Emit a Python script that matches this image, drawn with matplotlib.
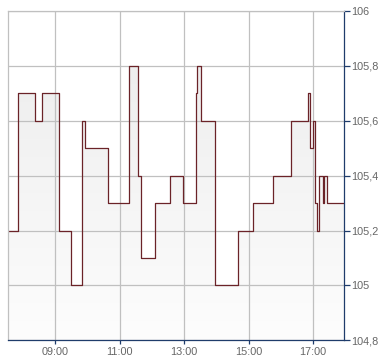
import matplotlib
matplotlib.use("Agg")
import matplotlib.pyplot as plt
import numpy as np

# step times (HH:MM) and prices (post-step values)
times = ["07:32", "07:51", "08:23", "08:36", "09:07", "09:29", "09:50", "09:56",
         "10:39", "11:18", "11:34", "11:40", "12:06", "12:34", "12:58", "13:22",
         "13:24", "13:32", "13:58", "14:41", "15:08", "15:46", "16:19", "16:51",
         "16:54", "17:00", "17:04", "17:07", "17:11", "17:18", "17:21", "17:25",
         "17:58"]
prices = [105.2, 105.7, 105.6, 105.7, 105.2, 105.0, 105.6, 105.5,
          105.3, 105.8, 105.4, 105.1, 105.3, 105.4, 105.3, 105.7,
          105.8, 105.6, 105.0, 105.2, 105.3, 105.4, 105.6, 105.7,
          105.5, 105.6, 105.3, 105.2, 105.4, 105.3, 105.4, 105.3,
          105.3]
xtick_labels = ["09:00", "11:00", "13:00", "15:00", "17:00"]
ytick_values = [104.8, 105.0, 105.2, 105.4, 105.6, 105.8, 106.0]
ytick_labels = ["104,8", "105", "105,2", "105,4", "105,6", "105,8", "106"]


def to_h(s):
    h, m = s.split(":")
    return int(h) + int(m) / 60.0


x = np.array([to_h(t) for t in times])
y = np.array(prices)
xt = [to_h(t) for t in xtick_labels]

W, H = 390, 364
fig = plt.figure(figsize=(W / 100, H / 100), dpi=100)
fig.patch.set_facecolor("white")
l, r, t, b = 8, 344.3, 11, 340.3
ax = fig.add_axes([l / W, 1 - b / H, (r - l) / W, (b - t) / H])
ax.set_facecolor("white")

ymin, ymax = 104.8, 106.0
ax.set_xlim(x[0], x[-1])
ax.set_ylim(ymin, ymax)

# gradient fill under the step line
poly = ax.fill_between(x, y, ymin, step="post", facecolor="none", edgecolor="none")
grad = np.linspace(0, 1, 256).reshape(-1, 1)
from matplotlib.colors import LinearSegmentedColormap
cmap = LinearSegmentedColormap.from_list("g", ["#fdfdfd", "#ebebeb"])
im = ax.imshow(grad, extent=[x[0], x[-1], ymin, ymax], origin="lower",
               aspect="auto", cmap=cmap, zorder=1)
im.set_clip_path(poly.get_paths()[0], transform=ax.transData)

ax.step(x, y, where="post", color="#6b2328", linewidth=0.9, zorder=3)

grid_c = "#c0c0c0"
ax.set_xticks(xt)
ax.set_xticklabels(xtick_labels)
ax.set_yticks(ytick_values)
ax.set_yticklabels(ytick_labels)
ax.grid(True, color=grid_c, linewidth=0.9, zorder=2)
ax.set_axisbelow(False)
for gl in ax.get_xgridlines() + ax.get_ygridlines():
    gl.set_zorder(2)

ax.yaxis.tick_right()
navy = "#1f3c6b"
ax.spines["right"].set_color(navy)
ax.spines["bottom"].set_color(navy)
ax.spines["left"].set_color(grid_c)
ax.spines["top"].set_color(grid_c)
for s in ax.spines.values():
    s.set_linewidth(0.9)
    s.set_zorder(4)

ax.tick_params(axis="y", which="both", direction="out", length=4, width=0.9,
               color=navy, pad=1, labelsize=7.8, labelcolor="#666666",
               left=False, right=True)
ax.tick_params(axis="x", direction="out", length=3, width=0.9, color=navy,
               pad=2, labelsize=7.8, labelcolor="#666666")
for lab in ax.get_xticklabels() + ax.get_yticklabels():
    lab.set_family(["Liberation Sans", "DejaVu Sans"])

fig.savefig("out.png", dpi=100, facecolor="white")
